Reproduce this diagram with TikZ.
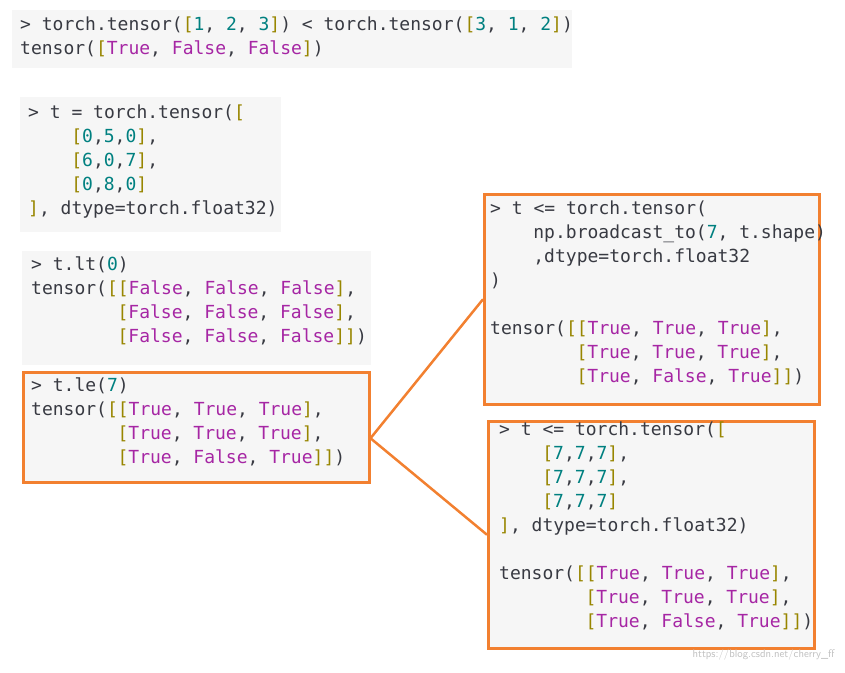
\documentclass[tikz,border=0pt]{standalone}
\usepackage{fontspec}
\setmonofont{DejaVu Sans Mono}
\usetikzlibrary{positioning}
\definecolor{codebg}{RGB}{246, 246, 246}
\definecolor{codetext}{RGB}{56, 58, 66}
\definecolor{kwpurple}{RGB}{166, 38, 164}
\definecolor{brolive}{RGB}{152, 134, 0}
\definecolor{numteal}{RGB}{0, 128, 128}
\definecolor{hlorange}{RGB}{242, 128, 48}
\newcommand{\T}{\textcolor{kwpurple}{True}}
\newcommand{\F}{\textcolor{kwpurple}{False}}
\newcommand{\lb}{\textcolor{brolive}{[}}
\newcommand{\rb}{\textcolor{brolive}{]}}
\newcommand{\nm}[1]{\textcolor{numteal}{#1}}
\newcommand{\ind}[1]{\hspace*{#1\dimexpr 10.8pt\relax}}

\begin{document}
\begin{tikzpicture}[x=1pt, y=-1pt,
    codebox/.style={fill=codebg, draw=none, anchor=north west, inner sep=0},
    hlbox/.style={codebox, draw=hlorange, line width=2.5pt},
    code/.style={anchor=north west, inner sep=0, align=left, text=codetext,
      font=\ttfamily\fontsize{18}{24}\selectfont}]
            \useasboundingbox (0,0) rectangle (845,672);
            % Boxes
            \node[codebox, minimum width=560pt, minimum height=58pt] (cmp) at (12,10) {};
            \node[codebox, minimum width=261pt, minimum height=135pt] (def) at (20,97) {};
            \node[codebox, minimum width=349pt, minimum height=114pt] (lt) at (22,251) {};
            \node[hlbox, minimum width=346pt, minimum height=110pt] (le) at (22,371) {};
            \node[hlbox, minimum width=335pt, minimum height=210pt] (bcast) at (483,193) {};
            \node[hlbox, minimum width=326pt, minimum height=227pt] (full) at (487,420) {};

            % Code
            \node[code] (cmptxt) at (20,17) {> torch.tensor(\lb\nm{1}, \nm{2}, \nm{3}\rb) < torch.tensor(\lb\nm{3}, \nm{1}, \nm{2}\rb)\\
              tensor(\lb\T, \F, \F\rb)};
            \node[code] (deftxt) at (28,105) {> t = torch.tensor(\lb\\
              \ind{4}\lb\nm{0},\nm{5},\nm{0}\rb,\\
              \ind{4}\lb\nm{6},\nm{0},\nm{7}\rb,\\
              \ind{4}\lb\nm{0},\nm{8},\nm{0}\rb\\
              \rb, dtype=torch.float32)};
            \node[code] (lttxt) at (31,257) {> t.lt(\nm{0})\\
              tensor(\lb\lb\F, \F, \F\rb,\\
              \ind{8}\lb\F, \F, \F\rb,\\
              \ind{8}\lb\F, \F, \F\rb\rb)};
            \node[code] (letxt) at (31,378) {> t.le(\nm{7})\\
              tensor(\lb\lb\T, \T, \T\rb,\\
              \ind{8}\lb\T, \T, \T\rb,\\
              \ind{8}\lb\T, \F, \T\rb\rb)};
            \node[code] (bcasttxt) at (490,201) {> t <= torch.tensor(\\
              \ind{4}np.broadcast\_to(\nm{7}, t.shape)\\
              \ind{4},dtype=torch.float32\\
              )\\[24pt]
              tensor(\lb\lb\T, \T, \T\rb,\\
              \ind{8}\lb\T, \T, \T\rb,\\
              \ind{8}\lb\T, \F, \T\rb\rb)};
            \node[code] (fulltxt) at (499,422) {> t <= torch.tensor(\lb\\
              \ind{4}\lb\nm{7},\nm{7},\nm{7}\rb,\\
              \ind{4}\lb\nm{7},\nm{7},\nm{7}\rb,\\
              \ind{4}\lb\nm{7},\nm{7},\nm{7}\rb\\
              \rb, dtype=torch.float32)\\[24pt]
              tensor(\lb\lb\T, \T, \T\rb,\\
              \ind{8}\lb\T, \T, \T\rb,\\
              \ind{8}\lb\T, \F, \T\rb\rb)};

            % Connectors
            \coordinate (split) at ([yshift=-11pt]le.east);
            \draw[hlorange, line width=2.5pt] (bcast.west) -- (split) -- (full.west);

            % Watermark
            \node[anchor=east, text=black!25, font=\sffamily\fontsize{11}{13}\selectfont] (mark) at (838,655) {https://blog.csdn.net/cherry\_ff};
        \end{tikzpicture}
\end{document}
